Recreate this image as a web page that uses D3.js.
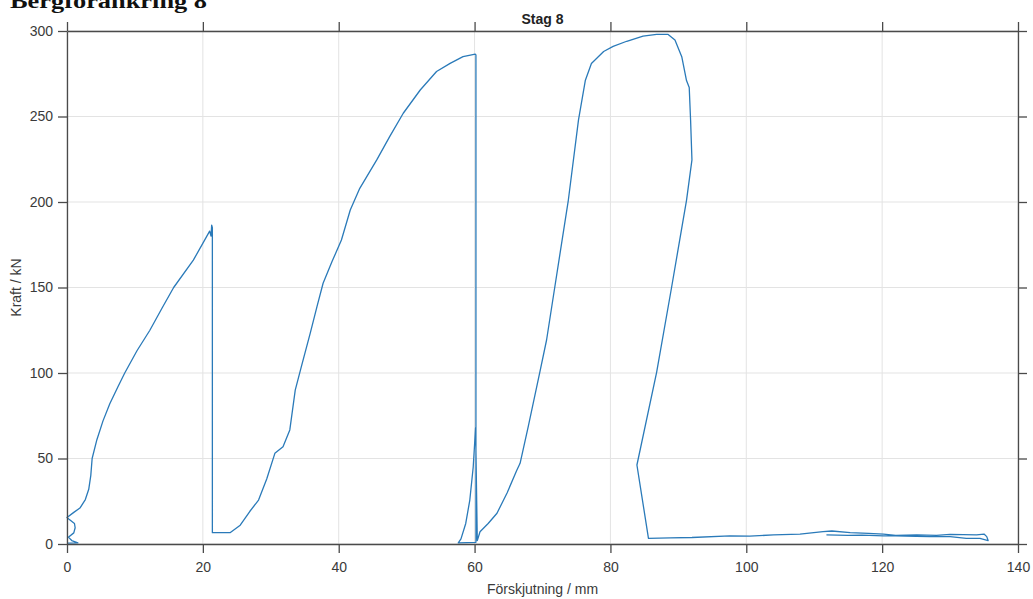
<!DOCTYPE html>
<html>
<head>
<meta charset="utf-8">
<script src="https://cdn.jsdelivr.net/npm/d3@7"></script>
<style>
  html, body { margin: 0; padding: 0; background: #fff; }
  svg { display: block; }
</style>
</head>
<body>
<svg id="chart" width="1033" height="599"></svg>
<script>
// ---- data: [displacement mm, force kN] ----
const cycle1 = [
  [0,0.5],[1.6,0.6],[0.7,2.0],[0.2,4.0],[1.0,6.5],[1.2,9.5],[1.1,12],[0.3,14.5],[0.0,15.5],
  [1.0,18.5],[1.9,21],[2.7,26],[3.2,32],[3.5,40],[3.7,50],[4.4,61],[5.3,72],[6.3,82],
  [7.5,92],[8.5,100],[10.3,113],[12.2,125],[14.0,138],[15.7,150],[18.6,166],[20.3,178],
  [21.0,183],[21.2,180],[21.3,186.5],[21.4,185],[21.4,7]
];
const cycle2 = [
  [21.4,6.6],[24.0,6.6],[25.5,11],[26.9,19],[28.2,25.7],[29.4,38],[30.6,53],[31.8,56.9],
  [32.8,66.7],[33.6,90],[34.5,103.7],[35.8,123.2],[36.8,138.8],[37.7,152.5],[39.0,165],
  [40.4,177.8],[41.7,195.3],[43.1,208],[45.6,224.6],[47.5,238.2],[49.5,251.9],[52.0,265.5],
  [54.4,276.3],[56.4,281.1],[58.3,285],[60.1,286.5],[60.2,286],[60.2,1],[57.6,0.6],
  [58.0,3],[58.7,12],[59.3,25.7],[59.8,45],[60.15,68]
];
const cycle3 = [
  [60.4,2],[60.8,7.2],[62.0,12],[63.3,18],[64.8,30],[66.2,43],[66.7,47.2],[67.9,68.6],
  [69.6,100.4],[70.6,119.3],[71.8,150],[73.8,201],[75.3,248],[76.3,271],[77.2,281],
  [79.0,288],[80.4,291],[82.4,294],[84.8,297],[86.8,298],[88.5,298],[89.5,294.7],
  [90.5,285],[91.2,271],[91.6,267],[91.8,248],[92.0,224.6],[91.2,201],[89.0,150],
  [86.8,100.4],[83.9,46.2],[85.6,3.3]
];
const tail = [
  [85.6,3.3],[88.8,3.6],[92.0,3.8],[97.6,4.7],[100.5,4.6],[104.0,5.3],[107.9,5.8],
  [111.3,7.2],[112.6,7.6],[115.3,6.6],[118.0,6.2],[120.2,5.8],[122.0,5.0],[125.1,5.3],
  [128.0,5.0],[130.0,5.6],[133.9,5.3],[135.0,5.8],[135.4,4.3],[135.6,2.0],[134.4,3.3],
  [132.4,3.3],[130.0,4.3],[127.0,4.3],[125.0,4.5],[122.0,4.8],[120.2,4.7],[117.0,5.2],
  [115.0,5.0],[111.8,5.3]
];
const xTicks = [0,20,40,60,80,100,120,140];
const yTicks = [0,50,100,150,200,250,300];
const chartTitle = "Stag 8";
const pageHeading = "Bergförankring 8";
const xLabel = "Förskjutning / mm";
const yLabel = "Kraft / kN";

// ---- layout ----
const svg = d3.select("#chart");
const L = 67, R = 1018, T = 31, B = 544;
const x = d3.scaleLinear().domain([0,140]).range([L,R]);
const y = d3.scaleLinear().domain([0,300]).range([B,T]);

// page heading (partly above the top edge, as in the reference)
svg.append("text")
  .attr("x", 10).attr("y", 8)
  .attr("font-family", "'Liberation Serif', 'DejaVu Serif', serif")
  .attr("font-weight", "bold")
  .attr("font-size", 21)
  .attr("textLength", 197)
  .attr("lengthAdjust", "spacingAndGlyphs")
  .attr("fill", "#111")
  .text(pageHeading);

// grid
const grid = svg.append("g").attr("stroke", "#e3e3e3").attr("stroke-width", 1);
xTicks.forEach(t => grid.append("line")
  .attr("x1", x(t)).attr("x2", x(t)).attr("y1", T).attr("y2", B));
yTicks.forEach(t => grid.append("line")
  .attr("x1", L).attr("x2", R).attr("y1", y(t)).attr("y2", y(t)));

// data line
const line = d3.line().x(d => x(d[0])).y(d => y(d[1]));
const all = cycle1.concat(cycle2, cycle3, tail);
svg.append("path")
  .datum(all)
  .attr("fill", "none")
  .attr("stroke", "#2a7ab9")
  .attr("stroke-width", 1.3)
  .attr("stroke-linejoin", "round")
  .attr("d", line);

// axes
const axColor = "#4a4a4a";
function styleAxis(g, showLabels) {
  g.selectAll(".domain").attr("stroke", axColor).attr("stroke-width", 1.3);
  g.selectAll(".tick line").attr("stroke", axColor).attr("stroke-width", 1.3);
  g.selectAll(".tick text")
    .attr("fill", "#3a3a3a")
    .attr("font-family", "'Liberation Sans', Arial, sans-serif")
    .attr("font-size", 14);
  if (!showLabels) g.selectAll(".tick text").remove();
}
const xAxis = svg.append("g").attr("transform", `translate(0,${B})`)
  .call(d3.axisBottom(x).tickValues(xTicks).tickSize(9).tickSizeOuter(0).tickPadding(9));
styleAxis(xAxis, true);
const xAxisTop = svg.append("g").attr("transform", `translate(0,${T})`)
  .call(d3.axisTop(x).tickValues(xTicks).tickSize(9).tickSizeOuter(0));
styleAxis(xAxisTop, false);
const yAxis = svg.append("g").attr("transform", `translate(${L},0)`)
  .call(d3.axisLeft(y).tickValues(yTicks).tickSize(9).tickSizeOuter(0).tickPadding(5));
styleAxis(yAxis, true);
const yAxisRight = svg.append("g").attr("transform", `translate(${R},0)`)
  .call(d3.axisRight(y).tickValues(yTicks).tickSize(9).tickSizeOuter(0));
styleAxis(yAxisRight, false);

// titles
svg.append("text")
  .attr("x", (L+R)/2).attr("y", 24)
  .attr("text-anchor", "middle")
  .attr("font-family", "'Liberation Sans', Arial, sans-serif")
  .attr("font-weight", "bold").attr("font-size", 14)
  .attr("fill", "#222")
  .text(chartTitle);
svg.append("text")
  .attr("x", (L+R)/2).attr("y", 594)
  .attr("text-anchor", "middle")
  .attr("font-family", "'Liberation Sans', Arial, sans-serif")
  .attr("font-size", 14).attr("fill", "#3a3a3a")
  .text(xLabel);
svg.append("text")
  .attr("transform", `translate(21,${(T+B)/2}) rotate(-90)`)
  .attr("text-anchor", "middle")
  .attr("font-family", "'Liberation Sans', Arial, sans-serif")
  .attr("font-size", 14).attr("fill", "#3a3a3a")
  .text(yLabel);
</script>
</body>
</html>
